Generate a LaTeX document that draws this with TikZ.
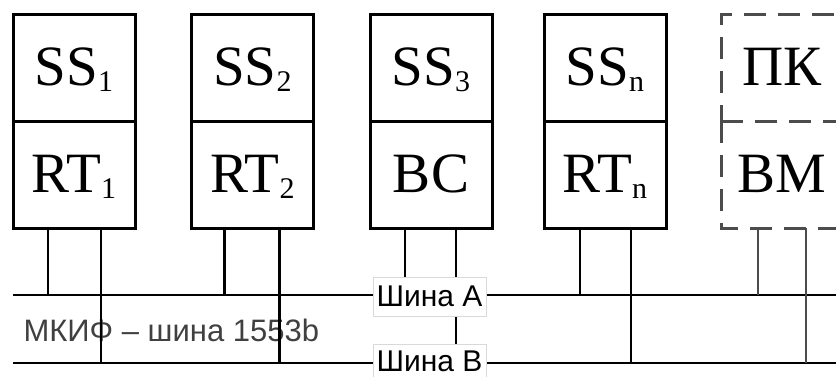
\documentclass[tikz,border=0pt]{standalone}
\usepackage{fontspec}
\setmainfont{Liberation Serif}
\newfontfamily\busfont{Liberation Sans}
\usetikzlibrary{positioning}
\newcommand{\lowidx}[1]{\raisebox{-6pt}{\fontsize{30}{30}\selectfont #1}}
\tikzset{
	half/.style={draw, line width=3pt, minimum width=122pt, minimum height=107pt, inner sep=0pt, outer sep=0pt, text height=46pt, text depth=11pt, font=\fontsize{57}{57}\selectfont},
	dashline/.style={draw=black!70, line width=3pt, dash pattern=on 22pt off 12pt},
	dashhalf/.style={half, dashline},
	wire/.style={line width=2.5pt},
	buslabel/.style={fill=white, draw=black!15, line width=1pt, minimum width=113pt, inner sep=0pt, font=\busfont\fontsize{30}{30}\selectfont},
}

\begin{document}
\begin{tikzpicture}[x=1pt,y=-1pt]
		\useasboundingbox (0,0) rectangle (836,376);
		\clip (0,0) rectangle (836,376);
		%
		\node (ss1) at (74,67.5) [half] {SS\lowidx{1}};
		\node (rt1) [half, below=0pt of ss1] {RT\lowidx{1}};
		\node (ss2) at (252.5,67.5) [half] {SS\lowidx{2}};
		\node (rt2) [half, below=0pt of ss2] {RT\lowidx{2}};
		\node (ss3) at (431,67.5) [half] {SS\lowidx{3}};
		\node (bc) [half, below=0pt of ss3] {BC};
		\node (ssn) at (605,67.5) [half] {SS\lowidx{n}};
		\node (rtn) [half, below=0pt of ssn] {RT\lowidx{n}};
		\node (pk) at (782,67.5) [dashhalf] {ПК};
		\node (bm) [half, draw=none, below=0pt of pk] {BM};
		\draw [dashline] (bm.north west) -- (bm.south west) -- (bm.south east) -- (bm.north east);
		%
		\coordinate (busAl) at (13,295);
		\coordinate (busAr) at (840,295);
		\coordinate (busBl) at (13,363);
		\coordinate (busBr) at (840,363);
		\draw [wire] (busAl) -- (busAr);
		\draw [wire] (busBl) -- (busBr);
		%
		\node (mkif) at (20,330) [anchor=west, text=black!75, font=\busfont\fontsize{31}{31}\selectfont] {МКИФ – шина 1553b};
		%
		\draw [wire] ([xshift=-26pt]rt1.south) -- ([xshift=-26pt]rt1.south |- busAl);
		\draw [wire] ([xshift=27pt]rt1.south) -- ([xshift=27pt]rt1.south |- busBl);
		\draw [wire] ([xshift=-28pt]rt2.south) -- ([xshift=-28pt]rt2.south |- busAl);
		\draw [wire] ([xshift=27pt]rt2.south) -- ([xshift=27pt]rt2.south |- busBl);
		\draw [wire] ([xshift=-26pt]bc.south) -- ([xshift=-26pt]bc.south |- busAl);
		\draw [wire] ([xshift=25pt]bc.south) -- ([xshift=25pt]bc.south |- busBl);
		\draw [wire] ([xshift=-25pt]rtn.south) -- ([xshift=-25pt]rtn.south |- busAl);
		\draw [wire] ([xshift=26pt]rtn.south) -- ([xshift=26pt]rtn.south |- busBl);
		\draw [wire, black!70] ([xshift=-24pt]bm.south) -- ([xshift=-24pt]bm.south |- busAl);
		\draw [wire, black!70] ([xshift=24pt]bm.south) -- ([xshift=24pt]bm.south |- busBl);
		%
		\node (shA) at (429.5,296.5) [buslabel, minimum height=39pt] {Шина А};
		\node (shB) at (429.5,361) [buslabel, minimum height=34pt] {Шина В};
	\end{tikzpicture}
\end{document}
